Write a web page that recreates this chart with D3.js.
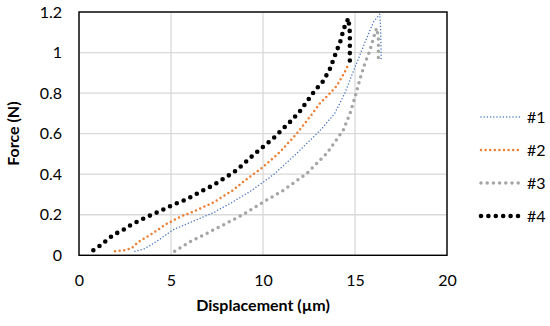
<!DOCTYPE html>
<html><head><meta charset="utf-8">
<script src="https://cdn.jsdelivr.net/npm/d3@7"></script>
<style>body{margin:0;background:#fff;}svg{display:block;}text{font-family:Lato,"Open Sans",sans-serif;fill:#000;}</style>
</head><body>
<svg id="c" width="550" height="326"></svg>
<script>
const xTicks = [0, 5, 10, 15, 20];
const yTicks = [0, 0.2, 0.4, 0.6, 0.8, 1, 1.2];
const seriesNames = ["#1", "#2", "#3", "#4"];
const s1x = [3.04,3.5,3.9,4.4,5.1,6.0,7.3,8.3,9.3,10.0,10.6,11.8,13.1,13.9,14.45,14.9,15.45,16.0,16.35,16.4,16.42];
const s1y = [0.02,0.03,0.05,0.08,0.125,0.16,0.21,0.26,0.315,0.36,0.40,0.50,0.615,0.70,0.80,0.905,1.03,1.15,1.19,1.10,0.97];
const s2x = [1.96,2.5,2.86,3.22,3.95,4.76,5.5,6.2,7.3,8.35,9.1,10.0,10.93,11.83,12.55,13.1,13.6,14.0,14.36,14.68];
const s2y = [0.02,0.025,0.035,0.065,0.105,0.155,0.19,0.215,0.26,0.32,0.375,0.435,0.51,0.60,0.683,0.75,0.795,0.835,0.89,0.947];
const s3x = [5.2,6.0,6.94,7.84,8.9,10.0,11.1,12.38,13.46,14.36,14.73,15.0,15.27,15.54,15.82,16.0,16.17,16.27,16.27];
const s3y = [0.02,0.065,0.108,0.15,0.2,0.262,0.32,0.404,0.502,0.617,0.7,0.78,0.87,0.947,1.013,1.07,1.12,1.08,0.97];
const s4x = [0.78,1.12,1.48,1.85,2.4,2.86,3.59,4.4,5.13,5.85,6.58,7.3,8.02,8.57,9.47,10.0,10.55,11.0,11.56,12.0,12.4,12.8,13.28,13.64,13.92,14.2,14.4,14.64,14.72,14.72];
const s4y = [0.025,0.046,0.072,0.1,0.125,0.152,0.185,0.218,0.25,0.276,0.313,0.346,0.387,0.42,0.494,0.535,0.576,0.617,0.666,0.71,0.76,0.81,0.86,0.92,0.988,1.054,1.12,1.169,1.10,0.96];

const styles = [
  {color:"#4472c4", w:1.5, dash:"0 3.2"},
  {color:"#ed7d31", w:2.5, dash:"0 4.6"},
  {color:"#a5a5a5", w:3.5, dash:"0 6.2"},
  {color:"#000000", w:4.6, dash:"0 7.4"}
];
const series = [[s1x,s1y],[s2x,s2y],[s3x,s3y],[s4x,s4y]].map((p,i)=>({name:seriesNames[i], pts:p[0].map((x,j)=>[x,p[1][j]])}));

const svg = d3.select("#c");
const L=79, R=447, T=12, B=255.3;
const x = d3.scaleLinear().domain([0,20]).range([L,R]);
const y = d3.scaleLinear().domain([0,1.2]).range([B,T]);

// grid
svg.append("g").selectAll("line").data(xTicks).join("line")
  .attr("x1",d=>x(d)).attr("x2",d=>x(d)).attr("y1",T).attr("y2",B)
  .attr("stroke","#d9d9d9").attr("stroke-width",1.3);
svg.append("g").selectAll("line").data(yTicks).join("line")
  .attr("x1",L).attr("x2",R).attr("y1",d=>y(d)).attr("y2",d=>y(d))
  .attr("stroke","#d9d9d9").attr("stroke-width",1.3);

// axes labels via d3 axes
const xAxis = svg.append("g").attr("transform",`translate(0,${B})`)
  .call(d3.axisBottom(x).tickValues(xTicks).tickSize(0).tickPadding(19).tickFormat(d3.format("d")));
xAxis.select(".domain").remove();
xAxis.selectAll("text").attr("font-size",16).attr("font-family","Lato");
const yAxis = svg.append("g").attr("transform",`translate(${L},0)`)
  .call(d3.axisLeft(y).tickValues(yTicks).tickSize(0).tickPadding(17).tickFormat(d=>String(d)));
yAxis.select(".domain").remove();
yAxis.selectAll("text").attr("font-size",16).attr("font-family","Lato");

// series
const line = d3.line().x(d=>x(d[0])).y(d=>y(d[1]));
svg.append("g").selectAll("path").data(series).join("path")
  .attr("d",d=>line(d.pts)).attr("fill","none")
  .attr("stroke",(d,i)=>styles[i].color).attr("stroke-width",(d,i)=>styles[i].w)
  .attr("stroke-dasharray",(d,i)=>styles[i].dash).attr("stroke-linecap","round");

// frame
svg.append("rect").attr("x",L).attr("y",T).attr("width",R-L).attr("height",B-T)
  .attr("fill","none").attr("stroke","#000").attr("stroke-width",1.4);

// titles
svg.append("text").attr("x",(L+R)/2).attr("y",311).attr("text-anchor","middle")
  .attr("font-size",16).attr("font-weight","bold").text("Displacement (µm)");
svg.append("text").attr("transform",`translate(19,${(T+B)/2}) rotate(-90)`).attr("text-anchor","middle")
  .attr("font-size",16).attr("font-weight","bold").text("Force (N)");

// legend
const lg = svg.append("g").selectAll("g").data(series).join("g")
  .attr("transform",(d,i)=>`translate(481,${117+i*33})`);
lg.append("line").attr("x1",0).attr("x2",41).attr("y1",0).attr("y2",0)
  .attr("stroke",(d,i)=>styles[i].color).attr("stroke-width",(d,i)=>styles[i].w)
  .attr("stroke-dasharray",(d,i)=>styles[i].dash).attr("stroke-linecap","round");
lg.append("text").attr("x",46).attr("y",6).attr("font-size",16).text(d=>d.name);
</script>
</body></html>
